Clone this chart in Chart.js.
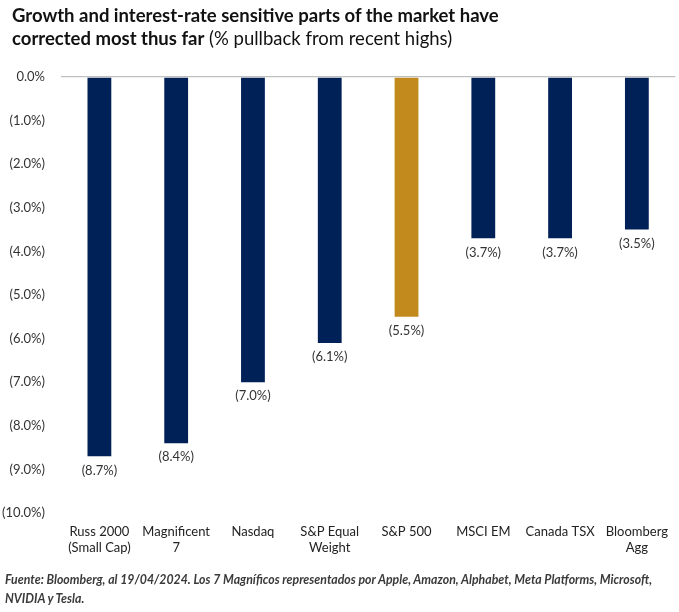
<!DOCTYPE html>
<html>
<head>
<meta charset="utf-8">
<script src="https://cdn.jsdelivr.net/npm/chart.js@4/dist/chart.umd.min.js"></script>
<style>
  html, body { margin: 0; padding: 0; background: #fff; }
  #wrap { position: relative; width: 679px; height: 612px; }
  #title { position: absolute; left: 12px; top: 4px; font-family: Lato, "Open Sans", sans-serif; font-size: 18.5px; line-height: 23px; color: #111; }
  #title b { font-weight: 700; }
  #foot { position: absolute; left: 5px; top: 570px; font-family: Lato, "Open Sans", sans-serif; font-size: 12.3px; line-height: 19px; font-style: italic; font-weight: 700; color: #3a3a3a; }
  canvas { position: absolute; left: 0; top: 0; }
</style>
</head>
<body>
<div id="wrap">
  <canvas id="c" width="679" height="612"></canvas>
  <div id="title"><b>Growth and interest-rate sensitive parts of the market have<br>corrected most thus far</b> (% pullback from recent highs)</div>
  <div id="foot">Fuente: Bloomberg, al 19/04/2024. Los 7 Magníficos representados por Apple, Amazon, Alphabet, Meta Platforms, Microsoft,<br>NVIDIA y Tesla.</div>
</div>
<script>
const categories = [["Russ 2000","(Small Cap)"],["Magnificent","7"],"Nasdaq",["S&P Equal","Weight"],"S&P 500","MSCI EM","Canada TSX",["Bloomberg","Agg"]];
const pullback = [-8.7, -8.4, -7.0, -6.1, -5.5, -3.7, -3.7, -3.5];
const highlight = [false, false, false, false, true, false, false, false];
const yTicks = [0, -1, -2, -3, -4, -5, -6, -7, -8, -9, -10];

const NAVY = "#002157";
const GOLD = "#C28A1C";
const FONT = "Lato, 'Open Sans', sans-serif";

function fmt(v) {
  return v === 0 ? "0.0%" : "(" + Math.abs(v).toFixed(1) + "%)";
}

const labelPlugin = {
  id: "barLabels",
  afterDatasetsDraw(chart) {
    const ctx = chart.ctx;
    const meta = chart.getDatasetMeta(0);
    ctx.save();
    ctx.font = "13px " + FONT;
    ctx.fillStyle = "#333";
    ctx.textAlign = "center";
    ctx.textBaseline = "middle";
    meta.data.forEach((bar, i) => {
      ctx.fillText(fmt(pullback[i]), bar.x, bar.y + 14);
    });
    ctx.restore();
  }
};

new Chart(document.getElementById("c"), {
  type: "bar",
  data: {
    labels: categories,
    datasets: [{
      data: pullback,
      backgroundColor: highlight.map(h => h ? GOLD : NAVY),
      borderWidth: 0,
      barPercentage: 0.62,
      categoryPercentage: 0.5
    }]
  },
  options: {
    responsive: false,
    animation: false,
    layout: { padding: { top: 77, right: 0, bottom: 49, left: 0 } },
    plugins: { legend: { display: false }, tooltip: { enabled: false } },
    scales: {
      x: {
        grid: { display: false, drawTicks: false },
        border: { display: false },
        ticks: { color: "#222", font: { family: FONT, size: 13 }, padding: 11, maxRotation: 0, autoSkip: false },
        afterFit(s) { s.height = 50; }
      },
      y: {
        min: -10, max: 0,
        afterBuildTicks(s) { s.ticks = yTicks.map(v => ({ value: v })); },
        grid: {
          drawTicks: false,
          color: c => (c.tick && c.tick.value === 0) ? "#c0c0c0" : "rgba(0,0,0,0)",
          lineWidth: 1.3
        },
        border: { display: false },
        ticks: { color: "#333", font: { family: FONT, size: 13 }, padding: 16, callback: v => fmt(v) },
        afterFit(s) { s.width = 61; }
      }
    }
  },
  plugins: [labelPlugin]
});
</script>
</body>
</html>
